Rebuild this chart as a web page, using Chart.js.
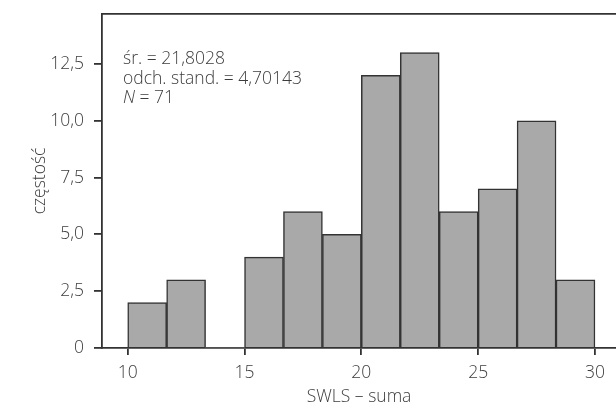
<!DOCTYPE html>
<html>
<head>
<meta charset="utf-8">
<script src="https://cdn.jsdelivr.net/npm/chart.js@4"></script>
<style>
  html, body { margin: 0; padding: 0; background: #fff; }
  #wrap { width: 616px; height: 406px; position: relative; }
</style>
</head>
<body>
<div id="wrap"><canvas id="hist"></canvas></div>
<script>
// Histogram SWLS – suma (przedziały i liczebności)
const binEdges = [10, 11.667, 13.333, 15, 16.667, 18.333, 20, 21.667, 23.333, 25, 26.667, 28.333, 30];
const counts = [2, 3, 0, 4, 6, 5, 12, 13, 6, 7, 10, 3];
const xTicks = [10, 15, 20, 25, 30];
const yTicks = [0, 2.5, 5, 7.5, 10, 12.5];
const statsLines = ['śr. = 21,8028', 'odch. stand. = 4,70143', '= 71'];

const FONT = "'Open Sans', 'DejaVu Sans', sans-serif";
const TEXT = '#3c3c3c';
const LINE = '#333';
const FSIZE = 17.5;
const FW = 300;

const fmt = (v) => v === 0 ? '0' : v.toFixed(1).replace('.', ',');

const points = counts.map((c, i) => ({ x: (binEdges[i] + binEdges[i + 1]) / 2, y: c }));

// Tekst ze statystykami w lewym górnym rogu
const statsBox = {
  id: 'statsBox',
  afterDraw(chart) {
    const { ctx, chartArea } = chart;
    const x = chartArea.left + 21;
    let y = chartArea.top + 50;
    ctx.save();
    ctx.fillStyle = TEXT;
    ctx.textBaseline = 'alphabetic';
    ctx.font = `${FW} ${FSIZE}px ${FONT}`;
    ctx.fillText(statsLines[0], x, y);
    y += 19.5;
    ctx.fillText(statsLines[1], x, y);
    y += 19.5;
    ctx.font = `italic ${FW} ${FSIZE}px ${FONT}`;
    ctx.fillText('N', x, y);
    const w = ctx.measureText('N ').width;
    ctx.font = `${FW} ${FSIZE}px ${FONT}`;
    ctx.fillText(statsLines[2], x + w, y);
    ctx.restore();
  },
};

new Chart(document.getElementById('hist'), {
  type: 'bar',
  data: {
    datasets: [{
      data: points,
      backgroundColor: '#a9a9a9',
      borderColor: LINE,
      borderWidth: (ctx) => (ctx.raw && ctx.raw.y > 0 ? 1.5 : 0),
      borderSkipped: 'start',
      barPercentage: 1,
      categoryPercentage: 1,
    }],
  },
  options: {
    responsive: true,
    maintainAspectRatio: false,
    animation: false,
    layout: { padding: { top: 13, right: 0, bottom: 0, left: 0 } },
    plugins: {
      legend: { display: false },
      tooltip: { enabled: false },
    },
    scales: {
      x: {
        type: 'linear',
        min: 8.9,
        max: 30.9,
        offset: false,
        afterBuildTicks: (s) => { s.ticks = xTicks.map((v) => ({ value: v })); },
        afterFit: (s) => { s.height = 58; },
        border: { display: true, color: LINE, width: 1.8 },
        grid: { offset: false, drawOnChartArea: false, drawTicks: true, tickLength: 7, color: LINE, lineWidth: 1.8 },
        ticks: { color: TEXT, font: { family: FONT, size: FSIZE, weight: FW }, padding: 8, maxRotation: 0 },
        title: {
          display: true,
          text: 'SWLS – suma',
          color: TEXT,
          font: { family: FONT, size: FSIZE, weight: FW, lineHeight: 1 },
          padding: { top: 1, bottom: 0 },
        },
      },
      xTop: {
        type: 'linear',
        position: 'top',
        min: 8.9,
        max: 30.9,
        offset: false,
        afterFit: (s) => { s.height = 1; },
        border: { display: true, color: LINE, width: 1.8 },
        grid: { display: false },
        ticks: { display: false },
      },
      y: {
        min: 0,
        max: 14.7,
        afterBuildTicks: (s) => { s.ticks = yTicks.map((v) => ({ value: v })); },
        afterFit: (s) => { s.width = 102; s.paddingTop = 0; s.paddingBottom = 0; },
        border: { display: true, color: LINE, width: 1.8 },
        grid: { drawOnChartArea: false, drawTicks: true, tickLength: 8, color: LINE, lineWidth: 1.8 },
        ticks: {
          color: TEXT,
          font: { family: FONT, size: FSIZE, weight: FW },
          padding: 10,
          callback: (v) => fmt(v),
        },
        title: {
          display: true,
          text: 'częstość',
          color: TEXT,
          font: { family: FONT, size: FSIZE, weight: FW },
          padding: { top: 30, bottom: 0 },
        },
      },
    },
  },
  plugins: [statsBox],
});
</script>
</body>
</html>
